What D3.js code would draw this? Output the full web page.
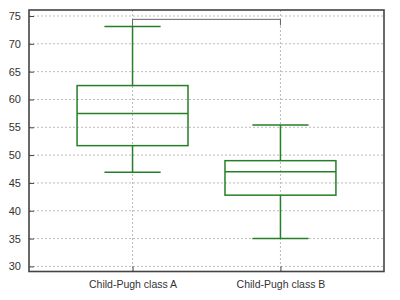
<!DOCTYPE html>
<html><head><meta charset="utf-8">
<script src="https://cdn.jsdelivr.net/npm/d3@7"></script>
<style>body{margin:0;background:#fff}svg{display:block}text{font-family:"Liberation Sans",Arial,sans-serif}</style>
</head><body><svg id="c" width="400" height="300"></svg>
<script>
const categories = ["Child-Pugh class A", "Child-Pugh class B"];
const whiskerLow = [46.9, 35.0];
const q1 = [51.7, 42.8];
const median = [57.5, 47.0];
const q3 = [62.5, 49.0];
const whiskerHigh = [73.1, 55.4];
const yTicks = [30, 35, 40, 45, 50, 55, 60, 65, 70, 75];
const bracketValue = 74.4;

const svg = d3.select("#c");
const L = 29, R = 384, T = 10, B = 271.5;
const x = d3.scaleLinear().domain([0.3, 2.7]).range([L, R]);
const y = d3.scaleLinear().domain([29.08, 76.08]).range([B, T]);
const green = "#267f26";

// grid
svg.append("g").selectAll("line").data(yTicks).join("line")
  .attr("x1", L).attr("x2", R).attr("y1", d => y(d)).attr("y2", d => y(d))
  .attr("stroke", "#bbb").attr("stroke-width", 1).attr("stroke-dasharray", "2,2");
svg.append("g").selectAll("line").data(categories).join("line")
  .attr("x1", (d, i) => x(i + 1)).attr("x2", (d, i) => x(i + 1)).attr("y1", T).attr("y2", B)
  .attr("stroke", "#bbb").attr("stroke-width", 1).attr("stroke-dasharray", "2,2");

// y axis
const yAxis = d3.axisLeft(y).tickValues(yTicks).tickSize(-5).tickPadding(8);
const gy = svg.append("g").attr("transform", `translate(${L},0)`).call(yAxis);
gy.select(".domain").remove();
gy.selectAll(".tick line").attr("stroke", "#444");
gy.selectAll("text").attr("font-size", 11).attr("fill", "#333");

// x axis
const xAxis = d3.axisBottom(x).tickValues([1, 2]).tickFormat((d) => categories[d - 1]).tickSize(-5).tickPadding(9);
const gx = svg.append("g").attr("transform", `translate(0,${B})`).call(xAxis);
gx.select(".domain").remove();
gx.selectAll(".tick line").attr("stroke", "#444");
gx.selectAll("text").attr("font-size", 10.5).attr("fill", "#333");

// bracket
const bx1 = x(1), bx2 = x(2);
svg.append("path")
  .attr("d", `M${bx1},${y(whiskerHigh[0])}V${y(bracketValue)}H${bx2}V${y(bracketValue) + 6}`)
  .attr("fill", "none").attr("stroke", "#666").attr("stroke-width", 1);

// boxes
const bw = 0.75, cw = 0.19;
const g = svg.append("g").attr("stroke", green).attr("stroke-width", 1.5).attr("fill", "none");
categories.forEach((c, i) => {
  const cx = x(i + 1);
  g.append("line").attr("x1", cx).attr("x2", cx).attr("y1", y(whiskerHigh[i])).attr("y2", y(q3[i]));
  g.append("line").attr("x1", cx).attr("x2", cx).attr("y1", y(q1[i])).attr("y2", y(whiskerLow[i]));
  g.append("line").attr("x1", x(i + 1 - cw)).attr("x2", x(i + 1 + cw)).attr("y1", y(whiskerHigh[i])).attr("y2", y(whiskerHigh[i]));
  g.append("line").attr("x1", x(i + 1 - cw)).attr("x2", x(i + 1 + cw)).attr("y1", y(whiskerLow[i])).attr("y2", y(whiskerLow[i]));
  g.append("rect").attr("x", x(i + 1 - bw / 2)).attr("width", x(i + 1 + bw / 2) - x(i + 1 - bw / 2))
    .attr("y", y(q3[i])).attr("height", y(q1[i]) - y(q3[i]));
  g.append("line").attr("x1", x(i + 1 - bw / 2)).attr("x2", x(i + 1 + bw / 2)).attr("y1", y(median[i])).attr("y2", y(median[i]));
});

// frame
svg.append("rect").attr("x", L).attr("y", T).attr("width", R - L).attr("height", B - T)
  .attr("fill", "none").attr("stroke", "#444").attr("stroke-width", 1.6);
</script></body></html>
